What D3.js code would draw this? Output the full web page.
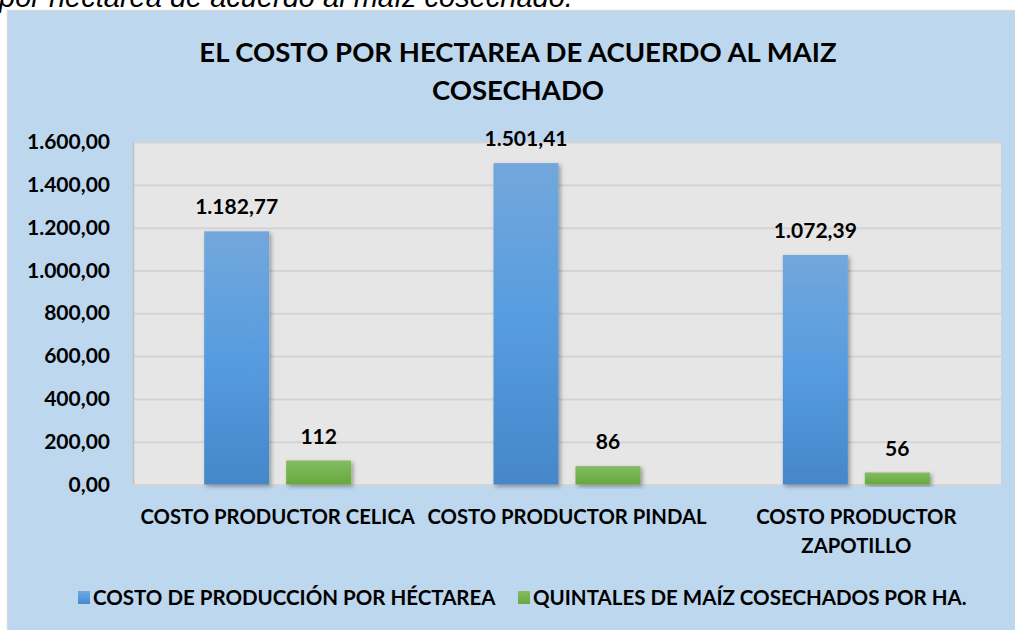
<!DOCTYPE html>
<html>
<head>
<meta charset="utf-8">
<script src="https://cdn.jsdelivr.net/npm/d3@7"></script>
<style>
  html, body { margin: 0; padding: 0; background: #ffffff; }
  svg { display: block; }
  text { font-family: Lato, "Open Sans", sans-serif; font-weight: 700; fill: #000; }
</style>
</head>
<body>
<svg id="chart" width="1015" height="630"></svg>
<script>
// Categories and series
const categories = ["COSTO PRODUCTOR CELICA", "COSTO PRODUCTOR PINDAL", "COSTO PRODUCTOR ZAPOTILLO"];
const categoryLines = [["COSTO PRODUCTOR CELICA"], ["COSTO PRODUCTOR PINDAL"], ["COSTO PRODUCTOR", "ZAPOTILLO"]];
const seriesNames = ["COSTO DE PRODUCCIÓN POR HÉCTAREA", "QUINTALES DE MAÍZ COSECHADOS POR HA."];
const costoPorHectarea = [1182.77, 1501.41, 1072.39];
const quintalesPorHa = [112, 86, 56];
const yTicks = [0, 200, 400, 600, 800, 1000, 1200, 1400, 1600];
const titleLines = ["EL COSTO POR HECTAREA DE ACUERDO AL MAIZ", "COSECHADO"];
const caption = "por hectarea de acuerdo al maíz cosechado.";

const esLocale = d3.formatLocale({ decimal: ",", thousands: ".", grouping: [3], currency: ["$", ""] });
const fmt2 = esLocale.format(",.2f");
const fmt0 = esLocale.format(",.0f");

const svg = d3.select("#chart");
const defs = svg.append("defs");

const gradBlue = defs.append("linearGradient").attr("id", "gBlue").attr("x1", 0).attr("y1", 0).attr("x2", 0).attr("y2", 1);
gradBlue.append("stop").attr("offset", "0%").attr("stop-color", "#73A7DC");
gradBlue.append("stop").attr("offset", "50%").attr("stop-color", "#569CDF");
gradBlue.append("stop").attr("offset", "100%").attr("stop-color", "#4587C9");
const gradGreen = defs.append("linearGradient").attr("id", "gGreen").attr("x1", 0).attr("y1", 0).attr("x2", 0).attr("y2", 1);
gradGreen.append("stop").attr("offset", "0%").attr("stop-color", "#84BC62");
gradGreen.append("stop").attr("offset", "100%").attr("stop-color", "#66A93D");

const shadow = defs.append("filter").attr("id", "barShadow").attr("x", "-20%").attr("y", "-10%").attr("width", "150%").attr("height", "130%");
shadow.append("feDropShadow").attr("dx", 2).attr("dy", 2).attr("stdDeviation", 2).attr("flood-color", "#000").attr("flood-opacity", 0.35);

// Caption line above the chart frame (partly cut by the page top)
svg.append("text")
  .attr("x", -1).attr("y", 7)
  .style("font-family", "'Liberation Sans', Arial, sans-serif")
  .style("font-style", "italic").style("font-weight", 400)
  .style("font-size", "29px").style("fill", "#000")
  .text(caption);

// Chart frame
svg.append("rect")
  .attr("x", 7.5).attr("y", 10.5).attr("width", 1020).attr("height", 630)
  .attr("fill", "#BDD7EE").attr("stroke", "#D9D9D9").attr("stroke-width", 1.5);

// Title
svg.append("text")
  .attr("text-anchor", "middle")
  .style("font-size", "27.5px")
  .selectAll("tspan").data(titleLines).join("tspan")
  .attr("x", 518).attr("y", (d, i) => 62 + i * 38)
  .text(d => d);

const plot = { left: 133, right: 1001, top: 142, bottom: 484.5 };

const y = d3.scaleLinear().domain([0, 1600]).range([plot.bottom, plot.top]);
const x0 = d3.scaleBand().domain(categories).range([plot.left, plot.right]).paddingInner(0.492).paddingOuter(0.246);
const x1 = d3.scaleBand().domain([0, 1]).range([0, x0.bandwidth()]).paddingInner(0.207).paddingOuter(0);

// Plot background
svg.append("rect")
  .attr("x", plot.left).attr("y", plot.top)
  .attr("width", plot.right - plot.left).attr("height", plot.bottom - plot.top)
  .attr("fill", "#E7E6E6");

// Gridlines
const grid = svg.append("g")
  .attr("transform", `translate(${plot.left},0)`)
  .call(d3.axisLeft(y).tickValues(yTicks).tickSize(-(plot.right - plot.left)).tickFormat(""));
grid.select(".domain").remove();
grid.selectAll(".tick line").attr("stroke", "#D4D4D4").attr("stroke-width", 2);

// Y axis labels
const yAxis = svg.append("g")
  .attr("transform", `translate(${plot.left},0)`)
  .call(d3.axisLeft(y).tickValues(yTicks).tickSize(0).tickPadding(23).tickFormat(fmt2));
yAxis.select(".domain").attr("stroke", "#BFBFBF").attr("stroke-width", 1.5);
yAxis.selectAll(".tick text")
  .style("font-family", "Lato, sans-serif").style("font-weight", 700)
  .style("font-size", "21px").attr("fill", "#000");

// Bars
const series = [
  { key: 0, values: costoPorHectarea, fill: "url(#gBlue)", fmt: fmt2 },
  { key: 1, values: quintalesPorHa, fill: "url(#gGreen)", fmt: fmt0 }
];

const groups = svg.append("g").selectAll("g").data(categories).join("g")
  .attr("transform", d => `translate(${x0(d)},0)`);

groups.selectAll("rect")
  .data((d, i) => series.map(s => ({ s, v: s.values[i] })))
  .join("rect")
  .attr("x", d => x1(d.s.key))
  .attr("width", x1.bandwidth())
  .attr("y", d => y(d.v))
  .attr("height", d => y(0) - y(d.v))
  .attr("fill", d => d.s.fill)
  .attr("filter", "url(#barShadow)");

groups.selectAll("text.val")
  .data((d, i) => series.map(s => ({ s, v: s.values[i] })))
  .join("text")
  .attr("class", "val")
  .attr("text-anchor", "middle")
  .attr("x", d => x1(d.s.key) + x1.bandwidth() / 2)
  .attr("y", d => y(d.v) - 17)
  .style("font-size", "21px")
  .text(d => d.s.fmt(d.v));

// Category labels
const catG = svg.append("g");
catG.selectAll("text").data(categories).join("text")
  .attr("text-anchor", "middle")
  .style("font-size", "20.3px")
  .each(function (d, i) {
    d3.select(this).selectAll("tspan").data(categoryLines[i]).join("tspan")
      .attr("x", x0(d) + x0.bandwidth() / 2)
      .attr("y", (t, j) => 524 + j * 29)
      .text(t => t);
  });

// Legend
const legendItems = [
  { name: seriesNames[0], fill: "url(#gBlue)", x: 78 },
  { name: seriesNames[1], fill: "url(#gGreen)", x: 518 }
];
const lg = svg.append("g").selectAll("g").data(legendItems).join("g")
  .attr("transform", d => `translate(${d.x},591)`);
lg.append("rect").attr("width", 12).attr("height", 13).attr("fill", d => d.fill);
lg.append("text").attr("x", 15).attr("y", 14).style("font-size", "20.5px").text(d => d.name);
</script>
</body>
</html>
